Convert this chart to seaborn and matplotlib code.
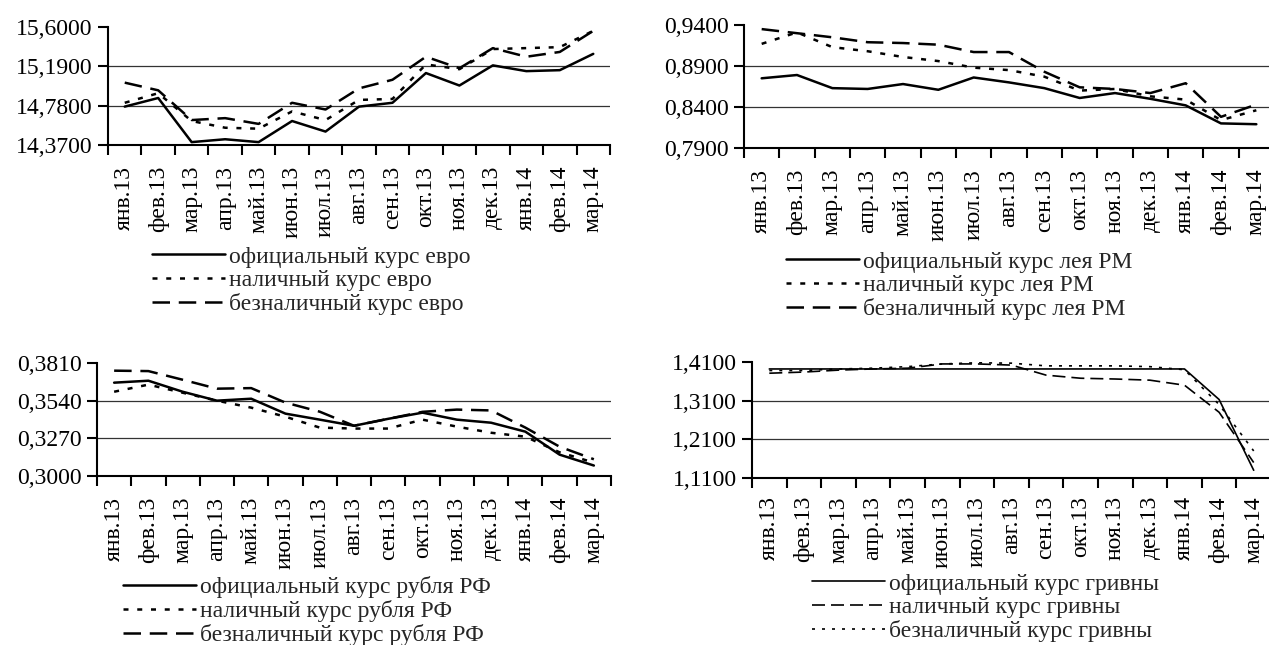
import matplotlib
matplotlib.use('Agg')
import matplotlib.pyplot as plt
import seaborn as sns
from matplotlib.ticker import FuncFormatter, FixedLocator

# months on the x axis
months = ['янв.13', 'фев.13', 'мар.13', 'апр.13', 'май.13', 'июн.13', 'июл.13',
          'авг.13', 'сен.13', 'окт.13', 'ноя.13', 'дек.13', 'янв.14', 'фев.14', 'мар.14']

# euro
eur_official = [14.77, 14.86, 14.40, 14.43, 14.40, 14.62, 14.51, 14.77, 14.81, 15.12, 14.99, 15.20, 15.14, 15.15, 15.32]
eur_cash = [14.81, 14.91, 14.62, 14.55, 14.54, 14.72, 14.63, 14.84, 14.85, 15.21, 15.16, 15.37, 15.38, 15.39, 15.56]
eur_noncash = [15.02, 14.94, 14.63, 14.65, 14.59, 14.81, 14.74, 14.96, 15.05, 15.29, 15.17, 15.38, 15.29, 15.34, 15.56]
eur_ticks = [14.37, 14.78, 15.19, 15.60]

# moldovan leu
mdl_official = [0.875, 0.879, 0.863, 0.862, 0.868, 0.861, 0.876, 0.870, 0.863, 0.851, 0.857, 0.850, 0.842, 0.820, 0.819]
mdl_cash = [0.917, 0.931, 0.913, 0.908, 0.901, 0.896, 0.888, 0.885, 0.877, 0.860, 0.862, 0.853, 0.849, 0.824, 0.836]
mdl_noncash = [0.935, 0.930, 0.925, 0.919, 0.918, 0.916, 0.907, 0.907, 0.883, 0.864, 0.862, 0.857, 0.869, 0.828, 0.843]
mdl_ticks = [0.79, 0.84, 0.89, 0.94]

# russian rouble
rub_official = [0.3669, 0.3683, 0.3604, 0.3540, 0.3554, 0.3447, 0.3404, 0.3360, 0.3410, 0.3454, 0.3404, 0.3382, 0.3318, 0.3153, 0.3075]
rub_cash = [0.3604, 0.3655, 0.3597, 0.3540, 0.3490, 0.3425, 0.3347, 0.3340, 0.3340, 0.3404, 0.3354, 0.3310, 0.3282, 0.3170, 0.3096]
rub_noncash = [0.3755, 0.3752, 0.3690, 0.3626, 0.3630, 0.3526, 0.3461, 0.3360, 0.3410, 0.3460, 0.3476, 0.3470, 0.3347, 0.3210, 0.3120]
rub_ticks = [0.300, 0.327, 0.354, 0.381]

# hryvnia
uah_official = [1.392, 1.392, 1.392, 1.392, 1.392, 1.392, 1.392, 1.392, 1.392, 1.392, 1.392, 1.392, 1.392, 1.313, 1.130]
uah_cash = [1.381, 1.384, 1.389, 1.392, 1.394, 1.405, 1.405, 1.402, 1.376, 1.368, 1.366, 1.363, 1.350, 1.280, 1.150]
uah_noncash = [1.388, 1.388, 1.392, 1.394, 1.398, 1.405, 1.408, 1.407, 1.400, 1.400, 1.400, 1.398, 1.390, 1.300, 1.180]
uah_ticks = [1.11, 1.21, 1.31, 1.41]

W, H = 1269, 645
sns.set_theme(style='white')
plt.rcParams['font.family'] = ['Liberation Serif', 'DejaVu Serif']
FS = 17

fig = plt.figure(figsize=(W / 100, H / 100), dpi=100)


def box(left, top, right, bottom):
    return [left / W, 1 - bottom / H, (right - left) / W, (bottom - top) / H]


def panel(rect, series, ticks, legend_xy, lw, xpad):
    ax = fig.add_axes(rect)
    x = list(range(len(months)))
    for values, label, ls in series:
        sns.lineplot(x=x, y=values, ax=ax, color='black', linewidth=lw,
                     linestyle=ls, label=label)
    ax.set_xlim(-0.5, len(months) - 0.5)
    ax.set_ylim(ticks[0], ticks[-1])
    ax.set_yticks(ticks)
    ax.yaxis.set_major_formatter(FuncFormatter(lambda v, p: f'{v:.4f}'.replace('.', ',')))
    ax.set_xticks(x)
    ax.set_xticklabels(months, rotation=90, va='top', ha='center')
    ax.xaxis.set_minor_locator(FixedLocator([i - 0.5 for i in range(len(months) + 1)]))
    ax.tick_params(axis='x', which='major', length=0, pad=xpad, labelsize=FS, colors='black')
    ax.tick_params(axis='x', which='minor', bottom=True, length=7, width=1.5, color='black')
    ax.tick_params(axis='y', length=7, width=1.5, pad=4, labelsize=FS, colors='black', left=True)
    for t in ticks[1:-1]:
        ax.axhline(t, color='#333333', linewidth=0.9, zorder=0)
    for s in ['top', 'right']:
        ax.spines[s].set_visible(False)
    for s in ['left', 'bottom']:
        ax.spines[s].set_color('black')
        ax.spines[s].set_linewidth(1.5)
    ax.set_xlabel('')
    ax.set_ylabel('')
    ax.legend(loc='upper left', bbox_to_anchor=(legend_xy[0] / W, 1 - legend_xy[1] / H),
              bbox_transform=fig.transFigure, frameon=False, fontsize=FS,
              borderpad=0, borderaxespad=0, handlelength=3.1, handletextpad=0.15,
              labelspacing=0.08)
    return ax


dot = (0, (2, 3.5))
dash = (0, (7, 3.5))

panel(box(108, 27, 610, 145),
      [(eur_official, 'официальный курс евро', '-'),
       (eur_cash, 'наличный курс евро', dot),
       (eur_noncash, 'безналичный курс евро', dash)],
      eur_ticks, (152, 246), 1.8, 15)

panel(box(744, 25, 1274, 148),
      [(mdl_official, 'официальный курс лея РМ', '-'),
       (mdl_cash, 'наличный курс лея РМ', dot),
       (mdl_noncash, 'безналичный курс лея РМ', dash)],
      mdl_ticks, (786, 251), 1.8, 15)

panel(box(97, 363, 611, 476),
      [(rub_official, 'официальный курс рубля РФ', '-'),
       (rub_cash, 'наличный курс рубля РФ', dot),
       (rub_noncash, 'безналичный курс рубля РФ', dash)],
      rub_ticks, (123, 576), 1.8, 15)

panel(box(752, 362, 1271, 478),
      [(uah_official, 'официальный курс гривны', '-'),
       (uah_cash, 'наличный курс гривны', (0, (7.8, 3.6))),
       (uah_noncash, 'безналичный курс гривны', (0, (1.8, 4.2)))],
      uah_ticks, (812, 573), 1.2, 13)

fig.savefig('out.png', dpi=100)
